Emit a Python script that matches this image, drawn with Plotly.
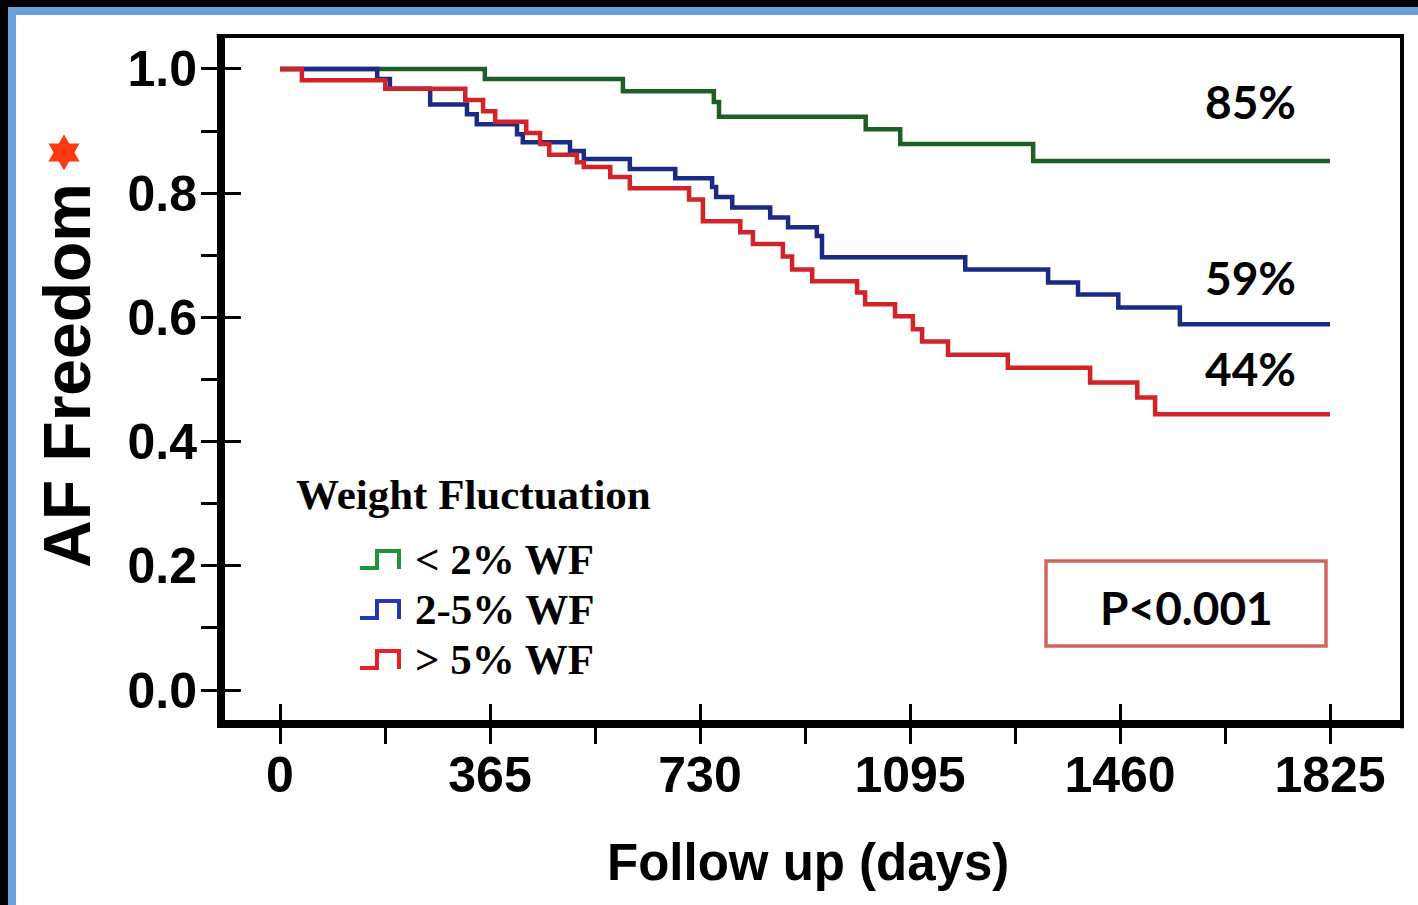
import plotly.graph_objects as go

W, H = 1418, 905

# Kaplan-Meier AF freedom by weight-fluctuation group: day of each step and estimate after it
green_days = [0, 356, 596, 754, 763, 1018, 1078, 1309, 1825]
green_surv = [1.0, 0.984, 0.964, 0.947, 0.923, 0.903, 0.879, 0.852, 0.852]

blue_days = [0, 169, 191, 261, 325, 342, 412, 422, 504, 528, 608, 687, 751, 758,
             786, 852, 883, 933, 942, 1191, 1335, 1387, 1457, 1564, 1825]
blue_surv = [1.0, 0.984, 0.968, 0.943, 0.927, 0.911, 0.895, 0.882, 0.868, 0.855,
             0.839, 0.824, 0.81, 0.794, 0.777, 0.761, 0.745, 0.731, 0.697, 0.677,
             0.656, 0.637, 0.616, 0.589, 0.589]

red_days = [0, 38, 183, 322, 353, 374, 428, 452, 468, 516, 528, 574, 608, 711, 735,
            800, 822, 874, 890, 925, 1003, 1017, 1069, 1100, 1116, 1161, 1265, 1408,
            1490, 1521, 1825]
red_surv = [1.0, 0.982, 0.968, 0.95, 0.932, 0.915, 0.897, 0.879, 0.862, 0.85, 0.842,
            0.826, 0.808, 0.79, 0.755, 0.737, 0.718, 0.698, 0.677, 0.658, 0.64, 0.621,
            0.602, 0.581, 0.561, 0.54, 0.519, 0.495, 0.471, 0.444, 0.444]

group_names = ["< 2% WF", "2-5% WF", "> 5% WF"]
line_colors = ["#1d5f27", "#1b2a84", "#d2232a"]
icon_colors = ["#1f9436", "#2437b4", "#e3232b"]
label_y = [0.947, 0.665, 0.517]

x_ticks = [0, 365, 730, 1095, 1460, 1825]
y_ticks = [0.0, 0.2, 0.4, 0.6, 0.8, 1.0]
y_tick_text = ["0.0", "0.2", "0.4", "0.6", "0.8", "1.0"]

X_RANGE = [-95.6, 1950.1]
Y_RANGE = [-0.0483, 1.0531]


def px(x):
    return x / W


def py(y):
    return 1 - y / H


SANS = "Liberation Sans"
SERIF = "Liberation Serif"
CAL = "Lato"

fig = go.Figure()

series = [(green_days, green_surv), (blue_days, blue_surv), (red_days, red_surv)]
for (days, surv), name, color in zip(series, group_names, line_colors):
    fig.add_trace(go.Scatter(
        x=days, y=surv, mode="lines", name=name,
        line=dict(color=color, width=4.5, shape="hv"),
        showlegend=False, hoverinfo="skip",
    ))

# empty traces that carry the overlay axes used for the inward half of the major ticks
fig.add_trace(go.Scatter(x=[], y=[], xaxis="x2", yaxis="y", showlegend=False, hoverinfo="skip"))
fig.add_trace(go.Scatter(x=[], y=[], xaxis="x", yaxis="y2", showlegend=False, hoverinfo="skip"))

x_dom = [225 / W, 1402 / W]
y_dom = [1 - 720 / H, 1 - 36 / H]
tick_font = dict(family=SANS, size=50, color="black", weight="bold")

fig.update_layout(
    width=W, height=H,
    margin=dict(l=0, r=0, t=0, b=0),
    paper_bgcolor="white", plot_bgcolor="white",
    xaxis=dict(
        domain=x_dom, range=X_RANGE, autorange=False,
        tickmode="array", tickvals=x_ticks, ticktext=[str(v) for v in x_ticks],
        ticks="outside", ticklen=16, tickwidth=3, tickcolor="black",
        minor=dict(tick0=0, dtick=182.5, ticks="outside", ticklen=16, tickwidth=3, tickcolor="black"),
        showline=True, linewidth=8, linecolor="black", ticklabelstandoff=-12,
        showgrid=False, zeroline=False, tickfont=tick_font, automargin=False,
    ),
    xaxis2=dict(
        overlaying="x", anchor="y", domain=x_dom, range=X_RANGE, autorange=False,
        tickmode="array", tickvals=x_ticks, ticks="inside", ticklen=16, tickwidth=3,
        tickcolor="black", showticklabels=False, showline=False, showgrid=False, zeroline=False,
    ),
    yaxis=dict(
        domain=y_dom, range=Y_RANGE, autorange=False,
        tickmode="array", tickvals=y_ticks, ticktext=y_tick_text,
        ticks="outside", ticklen=16, tickwidth=3, tickcolor="black",
        minor=dict(tick0=0, dtick=0.1, ticks="outside", ticklen=16, tickwidth=3, tickcolor="black"),
        showline=True, linewidth=8, linecolor="black", ticklabelstandoff=-6,
        showgrid=False, zeroline=False, tickfont=tick_font, automargin=False,
    ),
    yaxis2=dict(
        overlaying="y", anchor="x", side="left", domain=y_dom, range=Y_RANGE, autorange=False,
        tickmode="array", tickvals=y_ticks, ticks="inside", ticklen=16, tickwidth=3,
        tickcolor="black", showticklabels=False, showline=False, showgrid=False, zeroline=False,
    ),
)

shapes = [
    # page frame: black outer band with a blue inner rule along the top and left
    dict(type="rect", xref="paper", yref="paper", x0=0, x1=1, y0=py(7), y1=1,
         fillcolor="black", line=dict(width=0), layer="above"),
    dict(type="rect", xref="paper", yref="paper", x0=0, x1=px(8), y0=0, y1=1,
         fillcolor="black", line=dict(width=0), layer="above"),
    dict(type="rect", xref="paper", yref="paper", x0=px(8), x1=1, y0=py(15), y1=py(7),
         fillcolor="#6a9fd9", line=dict(width=0), layer="above"),
    dict(type="rect", xref="paper", yref="paper", x0=px(8), x1=px(16), y0=0, y1=py(7),
         fillcolor="#6a9fd9", line=dict(width=0), layer="above"),
    # thinner top and right sides of the plot box
    dict(type="line", xref="x domain", yref="y domain", x0=-0.007, x1=1.0017, y0=1, y1=1,
         line=dict(color="black", width=4)),
    dict(type="line", xref="x domain", yref="y domain", x0=1, x1=1, y0=-0.012, y1=1,
         line=dict(color="black", width=4)),
    # p-value box
    dict(type="rect", xref="paper", yref="paper", x0=px(1046), x1=px(1326), y0=py(646), y1=py(561),
         line=dict(color="#d0675f", width=3.5), fillcolor="rgba(0,0,0,0)"),
]

# six-pointed star beside the axis title
cx, cy, R = 64, 152.5, 18
hx, hy = 15.6, 9
up = [(cx, cy - R), (cx - hx, cy + hy), (cx + hx, cy + hy)]
dn = [(cx, cy + R), (cx - hx, cy - hy), (cx + hx, cy - hy)]
for tri in (up, dn):
    path = "M " + " L ".join(f"{px(a):.5f},{py(b):.5f}" for a, b in tri) + " Z"
    shapes.append(dict(type="path", xref="paper", yref="paper", path=path,
                       fillcolor="#ff3a12", line=dict(width=0)))

# step-shaped legend keys
LEG_TOP = 551
for i, color in enumerate(icon_colors):
    top = LEG_TOP + 50 * i
    bot = top + 18
    pts = [(360, bot - 1), (377, bot - 1), (377, top), (399, top), (399, bot)]
    path = "M " + " L ".join(f"{px(a):.5f},{py(b):.5f}" for a, b in pts)
    shapes.append(dict(type="path", xref="paper", yref="paper", path=path,
                       line=dict(color=color, width=4)))

fig.update_layout(shapes=shapes)

ann = [
    dict(text="AF Freedom", x=px(67), y=py(376), textangle=-90,
         font=dict(family=SANS, size=66, color="black", weight="bold")),
    dict(text="Follow up (days)", x=px(808), y=py(862),
         font=dict(family=SANS, size=51, color="black", weight="bold")),
    dict(text="Weight Fluctuation", x=px(294), y=py(494), xanchor="left",
         font=dict(family=SERIF, size=43, color="black", weight="bold")),
    dict(text="P&lt;0.001", x=px(1186), y=py(607),
         font=dict(family=CAL, size=46, color="black", weight="bold")),
]
for i, name in enumerate(group_names):
    ann.append(dict(text=name.replace("<", "&lt;").replace(">", "&gt;"),
                    x=px(413), y=py(LEG_TOP + 8 + 50 * i), xanchor="left",
                    font=dict(family=SERIF, size=43, color="black", weight="bold")))

for (days, surv), ly in zip(series, label_y):
    ann.append(dict(text=f"{round(surv[-1] * 100)}%", x=1686, y=ly, xref="x", yref="y",
                    font=dict(family=CAL, size=46, color="black", weight="bold")))

for a in ann:
    a.setdefault("xref", "paper")
    a.setdefault("yref", "paper")
    a.setdefault("xanchor", "center")
    a.setdefault("yanchor", "middle")
    a["showarrow"] = False
fig.update_layout(annotations=ann)

fig.write_html("out.html")
